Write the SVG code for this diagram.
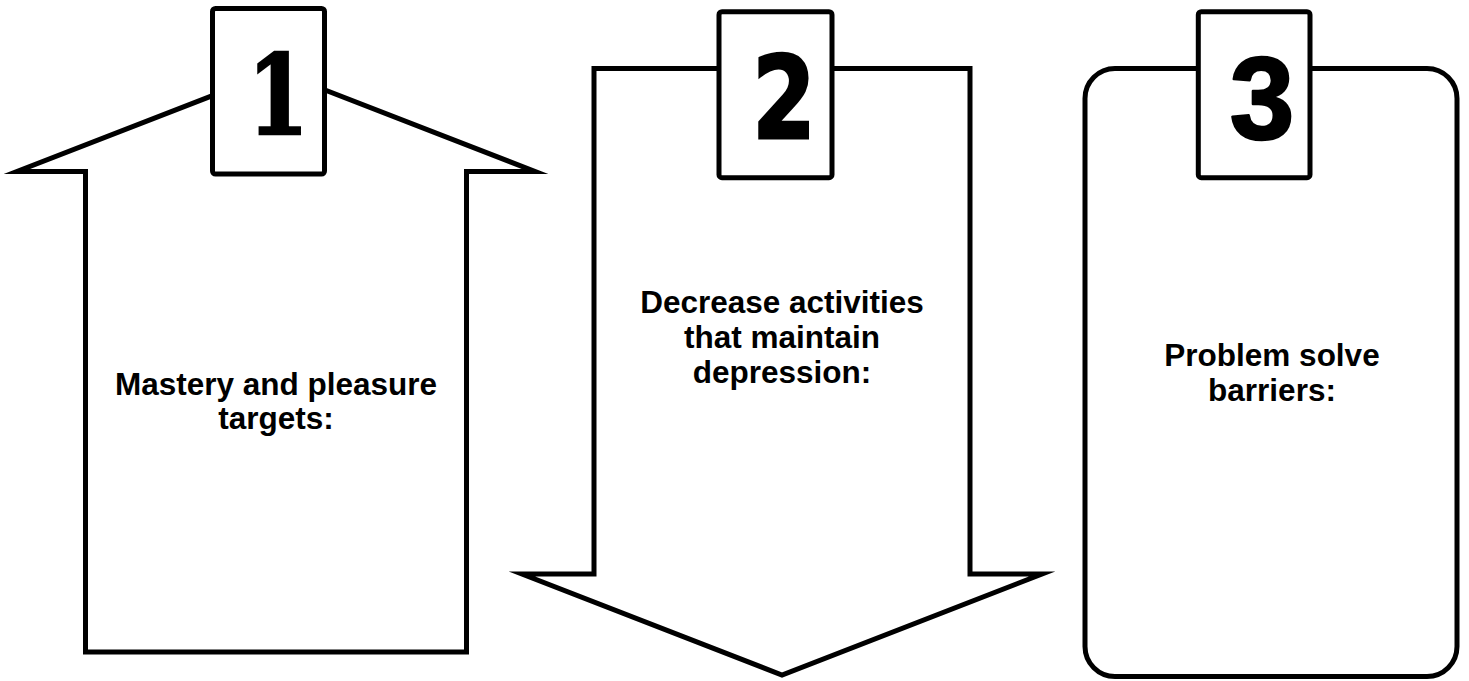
<svg xmlns="http://www.w3.org/2000/svg" width="1469" height="681" viewBox="0 0 1469 681">
<style>
.shape{fill:#fff;stroke:#000;stroke-width:5;stroke-linejoin:miter;stroke-miterlimit:10}
.tab{fill:#fff;stroke:#000;stroke-width:5}
.label{font-family:"Liberation Sans",Arial,sans-serif;font-weight:bold;font-size:31.5px;fill:#000;text-anchor:middle}
.d1{font-family:"DejaVu Serif","Liberation Serif",serif;font-weight:bold;font-size:110px;text-anchor:middle;fill:#000;stroke:#000;stroke-width:2.5}
.d2{font-family:"DejaVu Sans","Liberation Sans",sans-serif;font-weight:bold;font-size:114px;text-anchor:middle;fill:#000;stroke:#000;stroke-width:3}
.d3{font-family:"Liberation Sans",Arial,sans-serif;font-weight:bold;font-size:116px;text-anchor:middle;fill:#000;stroke:#000;stroke-width:2.5;stroke-linejoin:round}
</style>
<rect width="1469" height="681" fill="#fff"/>
<g id="connectors"/>
<g id="node1">
<path class="shape" d="M276,71 L535,171.5 L466.5,171.5 L466.5,652 L85.5,652 L85.5,171.5 L17,171.5 Z"/>
<rect class="tab" x="212.5" y="8.5" width="112" height="165.5" rx="3"/>
<text class="d1" transform="translate(278,134) scale(0.8,1)" x="0" y="0">1</text>
<text class="label" x="276" y="395">Mastery and pleasure</text>
<text class="label" x="276" y="429">targets:</text>
</g>
<g id="node2">
<path class="shape" d="M594,68.5 L970,68.5 L970,574 L1042,574 L782,675 L522,574 L594,574 Z"/>
<rect class="tab" x="719" y="11.7" width="113" height="166" rx="3"/>
<text class="d2" transform="translate(784,138) scale(0.8,1)" x="0" y="0">2</text>
<text class="label" x="782" y="313">Decrease activities</text>
<text class="label" x="782" y="348">that maintain</text>
<text class="label" x="782" y="383">depression:</text>
</g>
<g id="node3">
<rect class="shape" x="1085" y="68.5" width="372" height="608" rx="30"/>
<rect class="tab" x="1198.3" y="11.7" width="111.7" height="166" rx="3"/>
<text class="d3" x="1262" y="139">3</text>
<text class="label" x="1272" y="366">Problem solve</text>
<text class="label" x="1272" y="401">barriers:</text>
</g>
</svg>
